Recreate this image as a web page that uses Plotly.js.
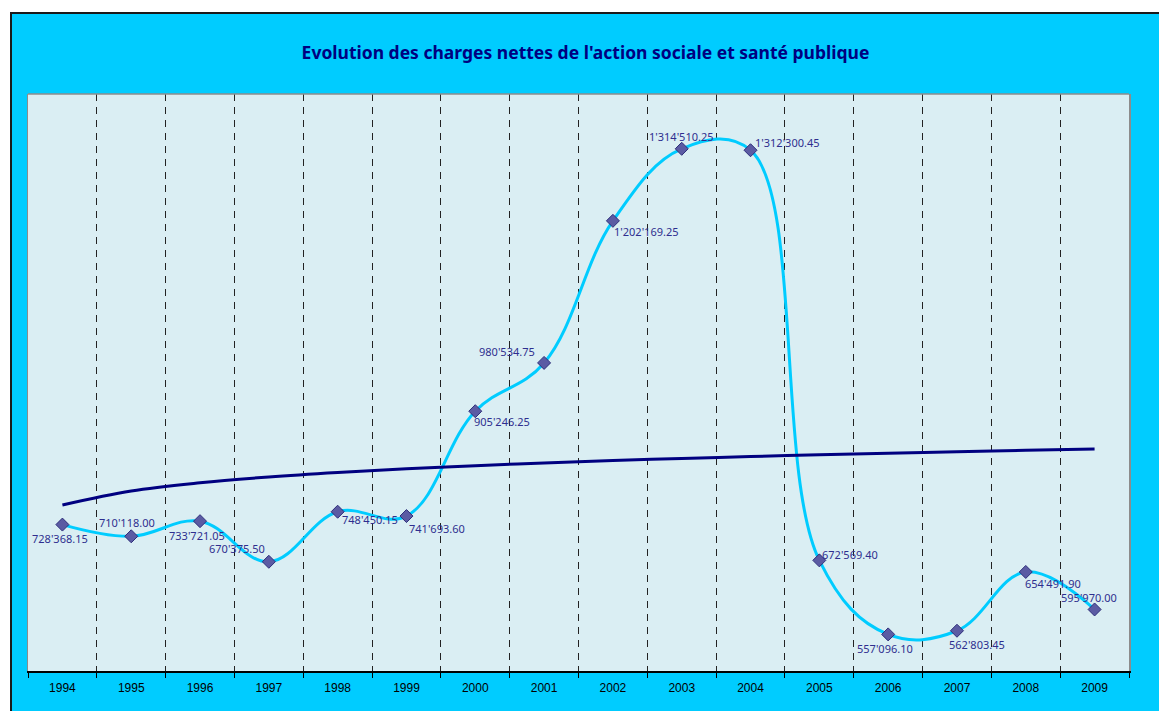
<!DOCTYPE html>
<html>
<head>
<meta charset="utf-8">
<script src="https://cdn.plot.ly/plotly-3.0.1.min.js"></script>
<style>
  html, body { margin: 0; padding: 0; background: #ffffff; width: 1159px; height: 711px; overflow: hidden; }
  #frame { position: absolute; left: 10px; top: 12px; width: 1149px; height: 699px;
           border-top: 2px solid #1a1a1a; border-left: 2px solid #1a1a1a; background: #00CCFF; }
  #chart { position: absolute; left: 0; top: 0; width: 1147px; height: 697px; }
</style>
</head>
<body>
<div id="frame"><div id="chart"></div></div>
<script>
// ---- data ----
const years = ['1994','1995','1996','1997','1998','1999','2000','2001','2002','2003','2004','2005','2006','2007','2008','2009'];
const charges = [728368.15, 710118.00, 733721.05, 670375.50, 748450.15, 741693.60, 905246.25, 980534.75,
                 1202169.25, 1314510.25, 1312300.45, 672569.40, 557096.10, 562803.45, 654491.90, 595970.00];
const labels = ["728'368.15","710'118.00","733'721.05","670'375.50","748'450.15","741'693.60","905'246.25","980'534.75",
                "1'202'169.25","1'314'510.25","1'312'300.45","672'569.40","557'096.10","562'803.45","654'491.90","595'970.00"];
// trend line (logarithmic tendency) values
const trend = [759000, 780800, 793600, 802700, 809700, 815400, 820300, 824500,
               828200, 831500, 834500, 837300, 839800, 842100, 844300, 846400];
const titleText = "Evolution des charges nettes de l'action sociale et santé publique";

// label offsets (pixels, x right / y up) relative to each marker
const labelDx = [-2, -4, -3, -32, 32, 31, 27, -37, 34, 0, 37, 31, -3, 20, 27, -6];
const labelDy = [-14, 14, -14, 13, -8, -12, -10, 11, -11, 12, 8, 6, -14, -14, -12, 12];

const traces = [
  {
    x: years, y: charges, type: 'scatter', mode: 'lines+markers',
    line: { color: '#00CCFF', width: 3, shape: 'spline', smoothing: 1.1 },
    marker: { symbol: 'diamond', size: 10, color: '#5B5BA3', line: { color: '#2E2E7A', width: 1 } },
    hoverinfo: 'skip'
  },
  {
    x: years, y: trend, type: 'scatter', mode: 'lines',
    line: { color: '#000080', width: 3, shape: 'spline', smoothing: 1 },
    hoverinfo: 'skip'
  }
];

const annotations = years.map((yr, i) => ({
  x: i, y: charges[i], xref: 'x', yref: 'y', text: labels[i], showarrow: false,
  xshift: labelDx[i], yshift: labelDy[i],
  font: { family: 'Noto Sans, sans-serif', size: 11, color: '#2E2E8F' }
}));

const layout = {
  width: 1147, height: 697,
  margin: { l: 16, r: 30, t: 80, b: 40, pad: 0 },
  paper_bgcolor: '#00CCFF',
  plot_bgcolor: '#DAEEF3',
  showlegend: false,
  title: {
    text: '<b>' + titleText + '</b>', x: 0.5, xref: 'container', y: 1 - 39/697, yref: 'container', yanchor: 'middle',
    font: { family: 'Noto Sans, sans-serif', size: 17.5, color: '#000080' }
  },
  xaxis: {
    type: 'category', range: [-0.5, 15.5], tickson: 'boundaries',
    showgrid: true, gridcolor: '#222222', gridwidth: 1, griddash: '7px,6px',
    ticks: 'outside', ticklen: 5, tickcolor: '#000000', tickwidth: 1,
    ticklabelstandoff: 5,
    showline: true, linecolor: '#000000', linewidth: 1.5,
    tickfont: { family: 'Liberation Sans, Arial, sans-serif', size: 12, color: '#000000' },
    zeroline: false, fixedrange: true
  },
  yaxis: {
    range: [500000, 1400000], showticklabels: false, showgrid: false, zeroline: false,
    ticks: '', showline: true, linecolor: '#8C8C8C', linewidth: 1.5, mirror: true, fixedrange: true
  },
  shapes: [
    { type: 'line', xref: 'paper', yref: 'paper', x0: 0, x1: 1, y0: 1, y1: 1, line: { color: '#8C8C8C', width: 1.5 } }
  ],
  annotations: annotations
};

Plotly.newPlot('chart', traces, layout, { displayModeBar: false, staticPlot: true });
</script>
</body>
</html>
